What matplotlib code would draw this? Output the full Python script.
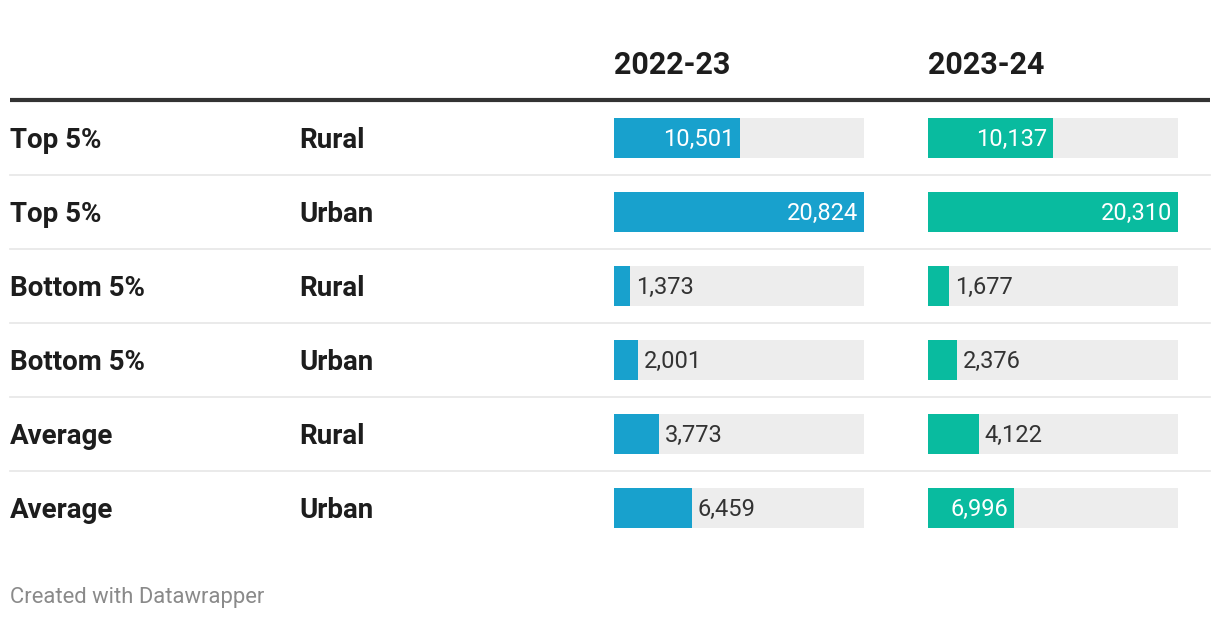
import numpy as np
import matplotlib.pyplot as plt

plt.rcParams['font.family'] = ['Roboto', 'DejaVu Sans']

# dados da tabela
grupos = ['Top 5%', 'Top 5%', 'Bottom 5%', 'Bottom 5%', 'Average', 'Average']
setor = ['Rural', 'Urban', 'Rural', 'Urban', 'Rural', 'Urban']
anos = ['2022-23', '2023-24']
v_2022 = [10501, 20824, 1373, 2001, 3773, 6459]
v_2023 = [10137, 20310, 1677, 2376, 4122, 6996]
cores = ['#18a1cd', '#09bb9f']

W, H = 1220, 620
fig = plt.figure(figsize=(W / 100, H / 100), dpi=100)

# eixo de fundo em pixels, para textos e linhas
bg = fig.add_axes([0, 0, 1, 1])
bg.set_xlim(0, W)
bg.set_ylim(H, 0)
bg.axis('off')

topo = 101      # inicio das linhas
passo = 74      # altura de cada linha
n = len(grupos)

bg.plot([10, 1210], [99.5, 99.5], color='#333333', lw=3, solid_capstyle='butt')
for i in range(1, n):
    y = topo + passo * i
    bg.plot([10, 1210], [y, y], color='#e6e6e6', lw=1.2)

for i in range(n):
    yc = topo + passo * i + passo / 2 + 2
    bg.text(10, yc, grupos[i], fontsize=20, fontweight='bold', color='#1d1d1d', va='center', ha='left')
    bg.text(299, yc, setor[i], fontsize=20, fontweight='bold', color='#1d1d1d', va='center', ha='left')

x_cols = [614, 928]
larg = 250
for x0, ano in zip(x_cols, anos):
    bg.text(x0, 65, ano, fontsize=22, fontweight='bold', color='#1d1d1d', va='center', ha='left')

bg.text(10, 598, 'Created with Datawrapper', fontsize=15.8, color='#8a8a8a', va='center', ha='left')

# colunas de barras
for x0, vals, cor in zip(x_cols, [v_2022, v_2023], cores):
    ax = fig.add_axes([x0 / W, 1 - (topo + passo * n) / H, larg / W, passo * n / H])
    vmax = max(vals)
    idx = np.arange(n)
    h = 40 / passo
    ax.barh(idx, [vmax] * n, height=h, color='#ededed', linewidth=0)
    ax.barh(idx, vals, height=h, color=cor, linewidth=0)
    ax.set_xlim(0, vmax)
    ax.set_ylim(n - 0.5, -0.5)
    ax.axis('off')
    for i, v in enumerate(vals):
        txt = f'{v:,}'
        yt = i + 1.5 / passo
        if v / vmax > 0.33:
            ax.text(v - vmax * 0.024, yt, txt, color='white', fontsize=17, va='center', ha='right')
        else:
            ax.text(v + vmax * 0.024, yt, txt, color='#333333', fontsize=17, va='center', ha='left')

plt.savefig('out.png', dpi=100)
